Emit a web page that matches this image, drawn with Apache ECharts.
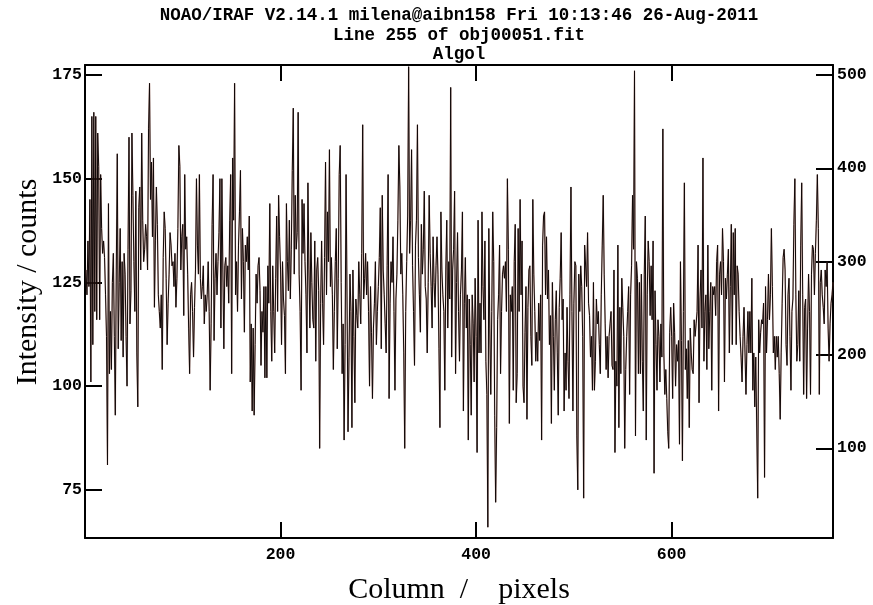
<!DOCTYPE html>
<html>
<head>
<meta charset="utf-8">
<script src="https://cdn.jsdelivr.net/npm/echarts@6/dist/echarts.min.js"></script>
<style>
html,body{margin:0;padding:0;background:#fff;}
#c{width:873px;height:605px;}
</style>
</head>
<body>
<div id="c"></div>
<script>
const titleLines = [
  'NOAO/IRAF V2.14.1 milena@aibn158 Fri 10:13:46 26-Aug-2011',
  'Line 255 of obj00051.fit',
  'Algol'
];
const xName = 'Column  /    pixels';
const yName = 'Intensity / counts';
const xTicks = [200, 400, 600];
const yTicksLeft = [75, 100, 125, 150, 175];
const yTicksRight = [100, 200, 300, 400, 500];
const xRange = [0, 765];
const yRangeLeft = [63.4, 177.4];
const yRangeRight = [3.9, 510.7];

// Intensity (counts) per column
const intensity = [
128,122,135,124,145,101,165,110,166,118,
165,116,161,153,116,151,138,132,135,
131,122,112,81,144,103,118,104,125,132,
112,93,128,156,109,125,138,111,130,107,
132,127,112,100,133,160,115,123,161,146,
130,118,147,108,95,143,148,128,161,140,
130,133,139,136,128,162,173,145,154,
136,155,119,135,148,139,122,118,114,122,
104,131,142,138,126,110,120,127,137,134,129,
130,124,132,119,126,138,158,153,128,136,
139,117,151,133,136,127,114,103,122,125,
118,107,119,128,150,134,127,151,126,
121,124,129,115,122,118,122,130,118,99,
115,139,151,111,126,132,122,130,137,150,
114,150,128,109,129,131,124,129,120,
140,151,103,155,140,173,122,130,118,134,
142,152,121,138,130,113,134,130,136,128,
141,101,115,94,114,93,110,127,120,129,
131,123,105,118,113,124,102,
124,102,129,120,144,118,106,129,118,108,
126,141,118,146,136,128,110,130,121,
117,103,144,130,123,140,121,133,152,167,
127,146,133,137,166,127,118,99,145,132,
144,130,122,108,149,128,114,137,125,116,
114,135,106,128,131,123,85,120,135,
120,110,131,154,122,142,130,157,124,131,
122,104,118,130,138,109,126,151,158,125,
103,115,87,110,151,121,89,107,127,118,
90,128,112,96,121,117,114,
130,122,115,132,163,121,126,132,122,
130,118,100,124,113,97,114,120,130,110,
118,124,131,143,109,146,128,122,115,108,
129,151,97,120,130,125,136,118,99,121,
127,140,158,148,127,132,122,108,85,118,
130,141,177,132,140,157,129,118,105,134,
140,163,131,122,113,139,127,133,147,124,
121,108,125,146,132,124,114,136,125,119,
129,136,127,109,90,142,128,122,118,
99,128,140,114,130,121,172,
107,128,133,147,103,125,137,118,106,122,
128,142,94,120,131,114,122,87,121,110,
93,122,115,101,126,112,84,140,108,120,
108,142,124,116,135,106,98,66,138,
114,98,118,142,130,93,72,90,116,122,
134,103,118,127,129,126,130,118,150,
133,91,122,118,124,99,130,139,96,103,
138,118,145,122,135,100,96,113,124,92,
119,128,129,112,105,145,127,118,106,113,
106,120,111,122,87,134,141,
142,122,136,121,128,110,117,91,125,112,
99,116,123,108,93,119,126,137,116,
121,94,108,99,119,106,97,122,148,118,
94,120,130,129,88,75,127,118,129,124,
112,73,134,134,124,137,120,117,107,112,
99,125,99,106,121,115,118,110,103,
122,134,146,127,115,104,112,102,112,115,
118,105,104,128,84,106,100,134,90,119,
103,126,119,112,85,104,112,118,124,98,
122,129,146,133,176,88,130,
126,103,125,103,127,106,94,127,141,87,
122,135,130,117,129,116,135,79,123,
110,99,116,112,101,115,107,162,108,98,
104,97,89,85,113,119,112,97,120,113,
100,110,106,111,86,130,111,82,118,149,
104,109,97,111,90,114,108,104,103,
116,112,115,118,134,96,121,128,114,155,
106,118,122,104,134,109,118,125,99,124,
122,124,117,130,134,94,127,130,122,138,
130,101,126,121,127,133,108,
124,139,110,137,122,138,110,129,127,118,
112,107,101,112,119,108,98,110,118,108,
118,108,126,99,108,95,107,107,73,
116,108,113,116,115,120,78,124,108,116,
127,116,122,138,124,108,112,104,112,107,
112,103,92,108,120,131,133,128,110,105,
122,126,112,99,118,121,139,150,122,106,
110,123,106,134,149,122,98,119,121,
97,114,127,118,98,127,134,133,122,132,
140,151,138,98,125,128,122,119,115,128,
124,130,114,106,115,120,122,125
];

const seriesData = intensity.map((v, i) => [i + 1, v]);

const labelFont = {fontFamily: '"Liberation Mono", monospace', fontWeight: 'bold', fontSize: 16.5, color: '#000'};
const frameLine = {show: true, onZero: false, lineStyle: {color: '#000', width: 2}};
const tickStyle = {color: '#000', width: 2};

const chart = echarts.init(document.getElementById('c'), null, {renderer: 'canvas'});
chart.setOption({
  animation: false,
  backgroundColor: '#fff',
  grid: {left: 85, right: 40, top: 65, bottom: 67, containLabel: false},
  xAxis: [
    {type: 'value', position: 'bottom', min: xRange[0], max: xRange[1],
     axisLine: frameLine,
     axisTick: {show: true, inside: true, length: 16, lineStyle: tickStyle, customValues: xTicks},
     axisLabel: Object.assign({customValues: xTicks, margin: 8}, labelFont),
     splitLine: {show: false}},
    {type: 'value', position: 'top', min: xRange[0], max: xRange[1],
     axisLine: frameLine,
     axisTick: {show: true, inside: true, length: 16, lineStyle: tickStyle, customValues: xTicks},
     axisLabel: {show: false},
     splitLine: {show: false}}
  ],
  yAxis: [
    {type: 'value', position: 'left', min: yRangeLeft[0], max: yRangeLeft[1],
     axisLine: frameLine,
     axisTick: {show: true, inside: true, length: 17, lineStyle: tickStyle, customValues: yTicksLeft},
     axisLabel: Object.assign({customValues: yTicksLeft, margin: 3}, labelFont),
     splitLine: {show: false}},
    {type: 'value', position: 'right', min: yRangeRight[0], max: yRangeRight[1],
     axisLine: frameLine,
     axisTick: {show: true, inside: true, length: 17, lineStyle: tickStyle, customValues: yTicksRight},
     axisLabel: Object.assign({customValues: yTicksRight, margin: 4}, labelFont),
     splitLine: {show: false}}
  ],
  series: [
    {type: 'line', xAxisIndex: 0, yAxisIndex: 0, data: seriesData, showSymbol: false, silent: true,
     lineStyle: {color: 'rgba(180,100,80,0.45)', width: 1.5}, z: 1},
    {type: 'line', xAxisIndex: 0, yAxisIndex: 0, data: seriesData, showSymbol: false, silent: true,
     lineStyle: {color: '#100808', width: 1.0}, z: 2}
  ],
  graphic: [
    {type: 'text', x: 459, y: 16, style: {text: titleLines[0], font: 'bold 17.5px "Liberation Mono"', fill: '#000', align: 'center', verticalAlign: 'middle', textAlign: 'center', textVerticalAlign: 'middle'}},
    {type: 'text', x: 459, y: 36, style: {text: titleLines[1], font: 'bold 17.5px "Liberation Mono"', fill: '#000', align: 'center', verticalAlign: 'middle', textAlign: 'center', textVerticalAlign: 'middle'}},
    {type: 'text', x: 459, y: 55, style: {text: titleLines[2], font: 'bold 17.5px "Liberation Mono"', fill: '#000', align: 'center', verticalAlign: 'middle', textAlign: 'center', textVerticalAlign: 'middle'}},
    {type: 'text', x: 459, y: 590, style: {text: xName, font: '30px "Liberation Serif"', fill: '#000', align: 'center', verticalAlign: 'middle', textAlign: 'center', textVerticalAlign: 'middle'}},
    {type: 'text', x: 28, y: 282, rotation: Math.PI / 2, style: {text: yName, font: '30px "Liberation Serif"', fill: '#000', align: 'center', verticalAlign: 'middle', textAlign: 'center', textVerticalAlign: 'middle'}}
  ]
});
</script>
</body>
</html>
